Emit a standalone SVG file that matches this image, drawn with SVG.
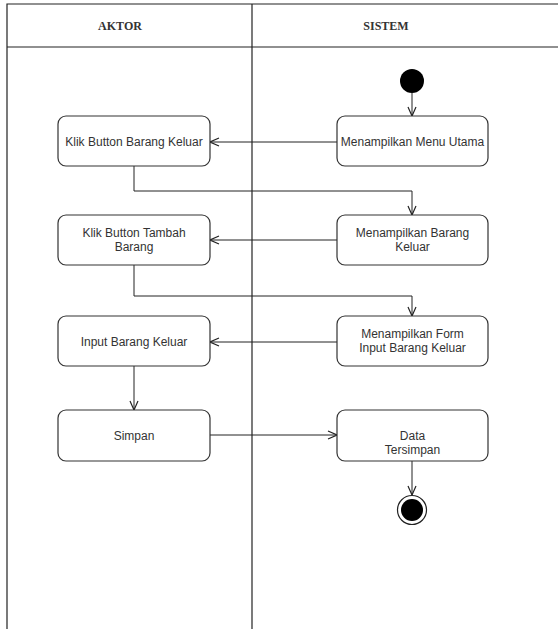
<svg xmlns="http://www.w3.org/2000/svg" width="558" height="629" viewBox="0 0 558 629">
  <style>
    .lane { fill: none; stroke: #222; stroke-width: 1.2; }
    .hdr { font-family: "Liberation Serif", "Times New Roman", serif; font-size: 12px; font-weight: bold; fill: #333; text-anchor: middle; }
    .box { fill: #fff; stroke: #333; stroke-width: 1.2; }
    .lbl { font-family: "Liberation Sans", Arial, sans-serif; font-size: 12px; fill: #333; text-anchor: middle; }
    .edge { fill: none; stroke: #222; stroke-width: 1; }
  </style>
  <defs>
    <marker id="arrow" viewBox="0 0 10 10" refX="10" refY="5" markerWidth="10" markerHeight="10" markerUnits="userSpaceOnUse" orient="auto">
      <path d="M1,1 L10,5 L1,9" fill="none" stroke="#222" stroke-width="1.2"/>
    </marker>
  </defs>
  <rect width="558" height="629" fill="#fff"/>

  <!-- swimlanes -->
  <g id="lanes">
    <path class="lane" d="M7,629 V4 H558"/>
    <line class="lane" x1="7" y1="47" x2="558" y2="47"/>
    <line class="lane" x1="252" y1="4" x2="252" y2="629"/>
    <text class="hdr" x="120" y="30">AKTOR</text>
    <text class="hdr" x="386" y="30">SISTEM</text>
  </g>

  <!-- connectors -->
  <g id="connectors">
    <line class="edge" x1="412" y1="93" x2="412" y2="116" marker-end="url(#arrow)"/>
    <line class="edge" x1="337" y1="142" x2="210" y2="142" marker-end="url(#arrow)"/>
    <polyline class="edge" points="134,166 134,191 412,191 412,215" marker-end="url(#arrow)"/>
    <line class="edge" x1="337" y1="240" x2="210" y2="240" marker-end="url(#arrow)"/>
    <polyline class="edge" points="134,265 134,296 412,296 412,316" marker-end="url(#arrow)"/>
    <line class="edge" x1="337" y1="342" x2="210" y2="342" marker-end="url(#arrow)"/>
    <line class="edge" x1="134" y1="366" x2="134" y2="410" marker-end="url(#arrow)"/>
    <line class="edge" x1="210" y1="435" x2="337" y2="435" marker-end="url(#arrow)"/>
    <line class="edge" x1="412" y1="461" x2="412" y2="495" marker-end="url(#arrow)"/>
  </g>

  <!-- start node -->
  <g id="start">
    <circle cx="412" cy="81" r="12" fill="#000"/>
  </g>

  <g id="menu-utama">
    <rect class="box" x="337" y="116" width="151" height="50" rx="8"/>
    <text class="lbl" x="412.5" y="146">Menampilkan Menu Utama</text>
  </g>
  <g id="klik-barang-keluar">
    <rect class="box" x="58" y="116" width="152" height="50" rx="8"/>
    <text class="lbl" x="134" y="146">Klik Button Barang Keluar</text>
  </g>
  <g id="tampil-barang-keluar">
    <rect class="box" x="337" y="215" width="151" height="50" rx="8"/>
    <text class="lbl" x="412.5" y="237">Menampilkan Barang</text>
    <text class="lbl" x="412.5" y="251">Keluar</text>
  </g>
  <g id="klik-tambah-barang">
    <rect class="box" x="58" y="215" width="152" height="50" rx="8"/>
    <text class="lbl" x="134" y="237">Klik Button Tambah</text>
    <text class="lbl" x="134" y="251">Barang</text>
  </g>
  <g id="tampil-form">
    <rect class="box" x="337" y="316" width="151" height="50" rx="8"/>
    <text class="lbl" x="412.5" y="338">Menampilkan Form</text>
    <text class="lbl" x="412.5" y="352">Input Barang Keluar</text>
  </g>
  <g id="input-barang-keluar">
    <rect class="box" x="58" y="316" width="152" height="50" rx="8"/>
    <text class="lbl" x="134" y="346">Input Barang Keluar</text>
  </g>
  <g id="simpan">
    <rect class="box" x="58" y="410" width="152" height="51" rx="8"/>
    <text class="lbl" x="134" y="440">Simpan</text>
  </g>
  <g id="data-tersimpan">
    <rect class="box" x="337" y="410" width="151" height="51" rx="8"/>
    <text class="lbl" x="412.5" y="440">Data</text>
    <text class="lbl" x="412.5" y="454">Tersimpan</text>
  </g>

  <!-- end node -->
  <g id="end">
    <circle cx="412" cy="510" r="14.5" fill="#fff" stroke="#222" stroke-width="1.2"/>
    <circle cx="412" cy="510" r="11" fill="#000"/>
  </g>
</svg>
